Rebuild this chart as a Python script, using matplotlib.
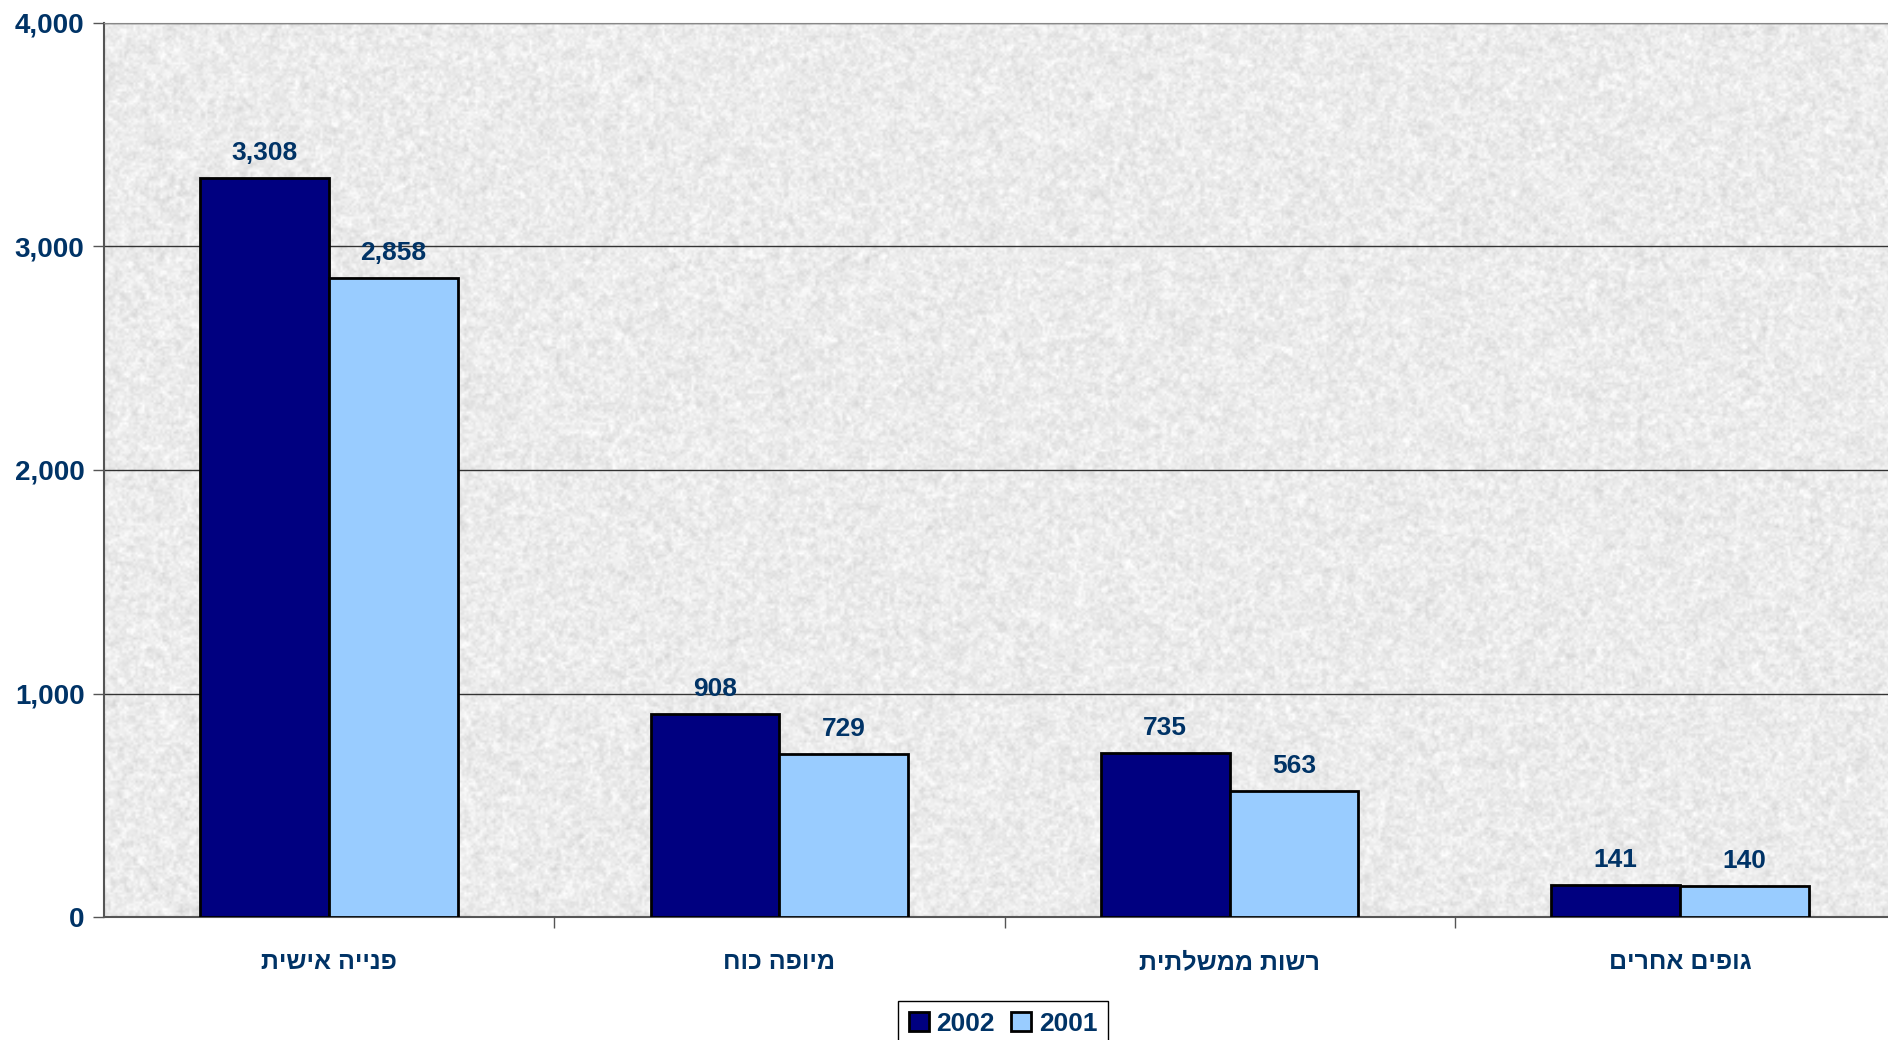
import numpy as np
import matplotlib
matplotlib.use("Agg")
from matplotlib import pyplot as plt
from matplotlib.patches import Patch
from matplotlib.ticker import FuncFormatter, MultipleLocator

categories = ["פנייה אישית", "מיופה כוח", "רשות ממשלתית", "גופים אחרים"]
series_names = ["2002", "2001"]
values_2002 = [3308, 908, 735, 141]
values_2001 = [2858, 729, 563, 140]

navy = "#000080"
sky = "#99ccff"
text_blue = "#003366"

plt.rcParams["font.family"] = ["Liberation Sans", "DejaVu Sans"]
plt.rcParams["font.weight"] = "bold"


def visual(s: str) -> str:
    # matplotlib lays glyphs left to right, so Hebrew goes in reversed
    return s[::-1]


def granite(ax, rows: int, cols: int) -> None:
    rng = np.random.default_rng(7)
    noise = rng.random((rows, cols))
    k = np.array([1, 2, 1], dtype=float)
    k /= k.sum()
    for axis in (0, 1):
        noise = np.apply_along_axis(lambda r: np.convolve(r, k, mode="same"), axis, noise)
    fine = rng.random((rows, cols))
    tex = 0.7 * noise + 0.3 * fine
    tex = (tex - tex.min()) / (tex.max() - tex.min())
    ax.imshow(tex, cmap="gray", vmin=-4.2, vmax=0.9, extent=(-0.5, len(categories) - 0.5, 0, 4000),
              aspect="auto", zorder=0, interpolation="bilinear")


fig = plt.figure(figsize=(18.88, 10.4), dpi=100)
ax = fig.add_axes([104 / 1888, 1 - 917 / 1040, 1801 / 1888, (917 - 23) / 1040])

granite(ax, 400, 800)

x = np.arange(len(categories))
width = 1 / 3.5
bars_a = ax.bar(x - width / 2, values_2002, width, color=navy, edgecolor="black", linewidth=2, zorder=3)
bars_b = ax.bar(x + width / 2, values_2001, width, color=sky, edgecolor="black", linewidth=2, zorder=3)

for bars in (bars_a, bars_b):
    for b in bars:
        h = b.get_height()
        ax.annotate(f"{h:,.0f}", (b.get_x() + b.get_width() / 2, h), xytext=(0, 13),
                    textcoords="offset points", ha="center", va="baseline",
                    fontsize=19, fontweight="bold", color=text_blue)

ax.set_xlim(-0.5, len(categories) - 0.5)
ax.set_ylim(0, 4000)
ax.yaxis.set_major_locator(MultipleLocator(1000))
ax.yaxis.set_major_formatter(FuncFormatter(lambda v, p: f"{v:,.0f}"))
ax.grid(axis="y", color="#333333", linewidth=1, zorder=1)
ax.set_axisbelow(True)

ax.set_xticks(x)
ax.set_xticklabels([visual(c) for c in categories])
ax.set_xticks(np.arange(0.5, len(categories) - 1), minor=True)
ax.tick_params(axis="x", which="major", length=0, pad=24, labelsize=18, labelcolor=text_blue)
ax.tick_params(axis="x", which="minor", length=8, width=1, color="#555555")
ax.tick_params(axis="y", length=8, width=1, color="#555555", pad=6, labelsize=20, labelcolor=text_blue)
for lab in ax.get_xticklabels() + ax.get_yticklabels():
    lab.set_fontweight("bold")

ax.spines["right"].set_visible(False)
ax.spines["top"].set_color("#888888")
ax.spines["left"].set_color("#555555")
ax.spines["bottom"].set_color("#555555")
ax.spines["left"].set_linewidth(1.5)
ax.spines["bottom"].set_linewidth(1.5)

handles = [Patch(facecolor=navy, edgecolor="black", linewidth=2),
           Patch(facecolor=sky, edgecolor="black", linewidth=2)]
leg = fig.legend(handles, series_names, loc="upper center", bbox_to_anchor=(1003 / 1888, 1 - 1001 / 1040),
                 ncol=2, fancybox=False, edgecolor="black", framealpha=1, handlelength=0.75,
                 handleheight=0.75, handletextpad=0.3, columnspacing=0.6, borderpad=0.4,
                 borderaxespad=0, prop={"size": 19, "weight": "bold"})
for t in leg.get_texts():
    t.set_color(text_blue)
leg.get_frame().set_linewidth(1)

fig.savefig("out.png", dpi=100)
